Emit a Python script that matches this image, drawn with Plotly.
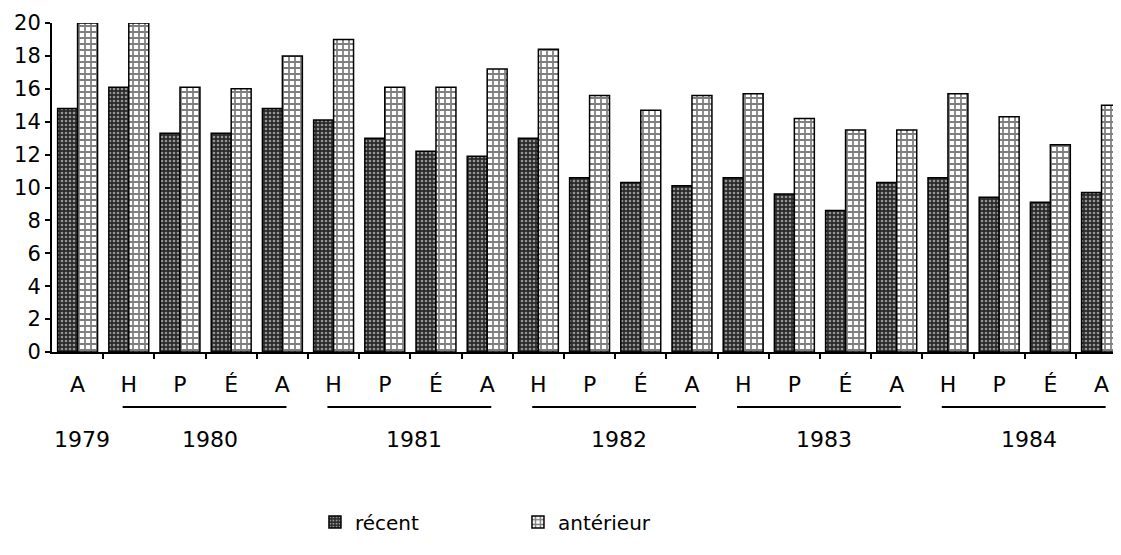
import plotly.graph_objects as go

# saisons : H, P, É, A (1979 n'a que A)
saisons = ["A",
           "H", "P", "É", "A",
           "H", "P", "É", "A",
           "H", "P", "É", "A",
           "H", "P", "É", "A",
           "H", "P", "É", "A"]
annees = ["1979", "1980", "1981", "1982", "1983", "1984"]
# index de début et de fin de chaque année dans la liste des saisons
debut_annee = [0, 1, 5, 9, 13, 17]
fin_annee = [0, 4, 8, 12, 16, 20]

recent = [14.8,
          16.1, 13.3, 13.3, 14.8,
          14.1, 13.0, 12.2, 11.9,
          13.0, 10.6, 10.3, 10.1,
          10.6, 9.6, 8.6, 10.3,
          10.6, 9.4, 9.1, 9.7]
anterieur = [20.0,
             20.0, 16.1, 16.0, 18.0,
             19.0, 16.1, 16.1, 17.2,
             18.4, 15.6, 14.7, 15.6,
             15.7, 14.2, 13.5, 13.5,
             15.7, 14.3, 12.6, 15.0]

x = list(range(len(saisons)))
font = "DejaVu Sans"

fig = go.Figure()
fig.add_trace(go.Bar(
    x=x, y=recent, name="récent",
    marker=dict(color="#333333",
                pattern=dict(shape=".", bgcolor="#2a2a2a", fgcolor="white",
                             size=4, solidity=0.35),
                line=dict(color="black", width=1.5)),
))
fig.add_trace(go.Bar(
    x=x, y=anterieur, name="antérieur",
    marker=dict(color="white",
                pattern=dict(shape="+", bgcolor="white", fgcolor="black",
                             size=6, solidity=0.5),
                line=dict(color="black", width=1.5)),
))

# soulignement et années sous les saisons
for an, d, f in zip(annees, debut_annee, fin_annee):
    if f > d:
        fig.add_shape(type="line", xref="x", yref="paper",
                      x0=d - 0.12, x1=f + 0.08, y0=-0.167, y1=-0.167,
                      line=dict(color="black", width=2))
    fig.add_annotation(x=(d + f) / 2 + 0.08, y=-0.267, xref="x", yref="paper",
                       text=an, showarrow=False, yanchor="middle",
                       font=dict(family=font, size=22, color="black"))

fig.update_layout(
    width=1113, height=547,
    margin=dict(l=44, r=0, t=15, b=203),
    paper_bgcolor="white", plot_bgcolor="white",
    barmode="group", bargap=0.22, bargroupgap=0.0,
    font=dict(family=font, size=20, color="black"),
    showlegend=True,
    legend=dict(orientation="h", x=0.246, xanchor="left", y=-0.517,
                yanchor="middle", entrywidth=158, entrywidthmode="pixels",
                font=dict(family=font, size=20, color="black")),
    xaxis=dict(range=[-0.5, 20.38], tickmode="array", tickvals=x,
               ticktext=saisons, ticks="", ticklabelstandoff=12,
               showline=True, linecolor="black", linewidth=2,
               showgrid=False, zeroline=False,
               minor=dict(tickmode="array",
                          tickvals=[i + 0.5 for i in x],
                          ticks="outside", ticklen=5, tickwidth=1.5,
                          tickcolor="black", showgrid=False),
               tickfont=dict(family=font, size=22, color="black")),
    yaxis=dict(range=[0, 20], dtick=2, ticks="outside", ticklen=5,
               tickwidth=2, tickcolor="black",
               showline=True, linecolor="black", linewidth=2,
               showgrid=False, zeroline=False,
               tickfont=dict(family=font, size=21, color="black")),
)

fig.write_html("out.html")
